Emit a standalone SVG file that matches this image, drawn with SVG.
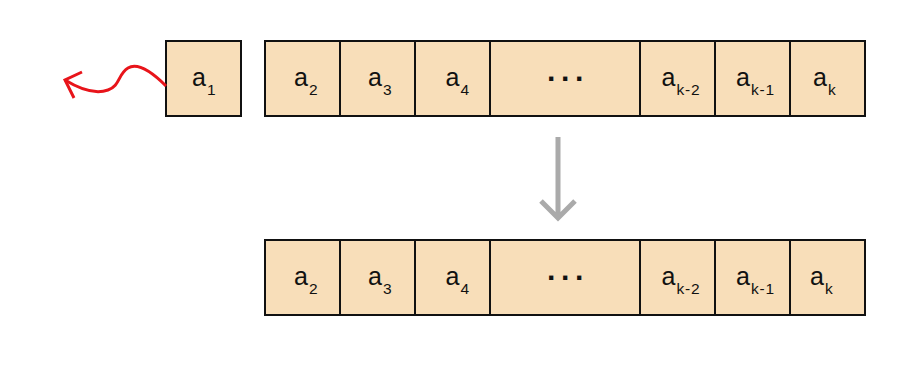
<svg xmlns="http://www.w3.org/2000/svg" width="912" height="372" viewBox="0 0 912 372">
<style>
.cell{fill:#f8deb9;stroke:#111;stroke-width:2}
.t{font-family:"Liberation Sans",Arial,sans-serif;font-size:25px;fill:#111}
.s{font-size:15.5px;letter-spacing:0.8px}
.dots{font-family:"Liberation Sans",Arial,sans-serif;font-size:30px;font-weight:bold;fill:#111;letter-spacing:4px}
</style>
<rect width="912" height="372" fill="#fff"/>
<g id="a1"><rect class="cell" x="166" y="41" width="75" height="75"/><text class="t" x="192" y="86">a<tspan class="s" dx="1" dy="9">1</tspan></text></g>
<g id="top">
<g id="t2"><rect class="cell" x="265" y="41" width="75" height="75"/><text class="t" x="294" y="86">a<tspan class="s" dx="1" dy="9">2</tspan></text></g>
<g id="t3"><rect class="cell" x="340" y="41" width="75" height="75"/><text class="t" x="368" y="86">a<tspan class="s" dx="1" dy="9">3</tspan></text></g>
<g id="t4"><rect class="cell" x="415" y="41" width="75" height="75"/><text class="t" x="445.5" y="86">a<tspan class="s" dx="1" dy="9">4</tspan></text></g>
<g id="tdots"><rect class="cell" x="490" y="41" width="150" height="75"/><text class="dots" x="547" y="89">···</text></g>
<g id="tk2"><rect class="cell" x="640" y="41" width="75" height="75"/><text class="t" x="661.5" y="86">a<tspan class="s" dx="1" dy="9">k-2</tspan></text></g>
<g id="tk1"><rect class="cell" x="715" y="41" width="75" height="75"/><text class="t" x="736" y="86">a<tspan class="s" dx="1" dy="9">k-1</tspan></text></g>
<g id="tk"><rect class="cell" x="790" y="41" width="75" height="75"/><text class="t" x="813" y="86">a<tspan class="s" dx="1" dy="9">k</tspan></text></g>
</g>
<g id="bottom">
<g id="b2"><rect class="cell" x="265" y="240" width="75" height="75"/><text class="t" x="294" y="285">a<tspan class="s" dx="1" dy="9">2</tspan></text></g>
<g id="b3"><rect class="cell" x="340" y="240" width="75" height="75"/><text class="t" x="368" y="285">a<tspan class="s" dx="1" dy="9">3</tspan></text></g>
<g id="b4"><rect class="cell" x="415" y="240" width="75" height="75"/><text class="t" x="445.5" y="285">a<tspan class="s" dx="1" dy="9">4</tspan></text></g>
<g id="bdots"><rect class="cell" x="490" y="240" width="150" height="75"/><text class="dots" x="547" y="288">···</text></g>
<g id="bk2"><rect class="cell" x="640" y="240" width="75" height="75"/><text class="t" x="661.5" y="285">a<tspan class="s" dx="1" dy="9">k-2</tspan></text></g>
<g id="bk1"><rect class="cell" x="715" y="240" width="75" height="75"/><text class="t" x="736" y="285">a<tspan class="s" dx="1" dy="9">k-1</tspan></text></g>
<g id="bk"><rect class="cell" x="790" y="240" width="75" height="75"/><text class="t" x="810" y="285">a<tspan class="s" dx="1" dy="9">k</tspan></text></g>
</g>
<g id="connectors" fill="none" stroke-linecap="butt">
<path d="M558 137 V218 M541 201 L558 218 L575 201" stroke="#aaa" stroke-width="5"/>
<path d="M166 86 C152 72 138 62 128 68 C118 74 120 86 108 90 C94 95 78 88 65 80" stroke="#e8141a" stroke-width="3"/>
<path d="M82 72 L65 80 L74 98" stroke="#e8141a" stroke-width="3"/>
</g>
</svg>
